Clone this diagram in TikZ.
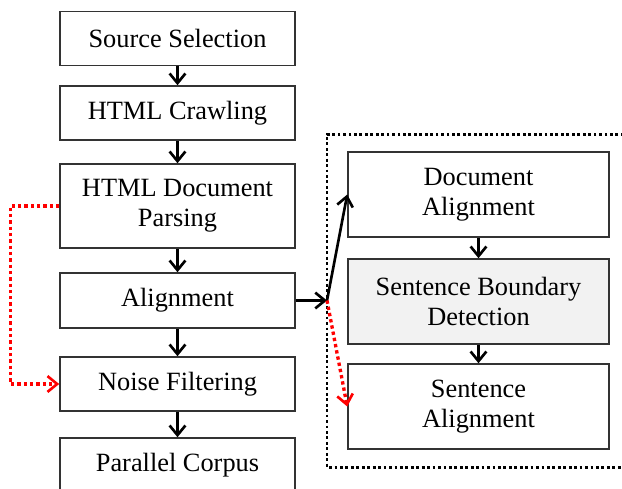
\documentclass[tikz,border=0pt]{standalone}
\usepackage{fontspec}
\setmainfont{Liberation Serif}
\usetikzlibrary{arrows.meta}

\begin{document}
\begin{tikzpicture}[x=0.02cm, y=-0.02cm,
		stage/.style = {draw=black!80, line width=0.9pt, align=center, inner sep=0pt,
			font=\fontsize{15}{17}\selectfont},
		leftstage/.style = {stage, minimum width=4.7cm},
		rightstage/.style = {stage, minimum width=5.22cm, minimum height=1.7cm},
		flow/.style = {line width=1.5pt, -{Straight Barb[length=5.5pt, width=9pt, line width=1.5pt]}},
		redflow/.style = {flow, red, line width=1.9pt, dash pattern=on 1.9pt off 1.7pt}]
		\clip (0,0) rectangle (622,488);
		% main pipeline
		\node[leftstage, minimum height=1.08cm] (src) at (177.5,38.5) {Source Selection};
		\node[leftstage, minimum height=1.08cm] (crawl) at (177.5,113) {HTML Crawling};
		\node[leftstage, minimum height=1.68cm] (parse) at (177.5,206) {HTML Document\\Parsing};
		\node[leftstage, minimum height=1.1cm] (align) at (177.5,300.5) {Alignment};
		\node[leftstage, minimum height=1.08cm] (noise) at (177.5,384) {Noise Filtering};
		\node[leftstage, minimum height=1.08cm] (corpus) at (177.5,465) {Parallel Corpus};
		\foreach \a/\b in {src/crawl, crawl/parse, parse/align, align/noise, noise/corpus}
			\draw[flow] (\a.south) -- (\b.north);
		% alignment sub-steps
		\draw[line width=1.7pt, dash pattern=on 1.6pt off 1.5pt] (640,134) -- (327,134) -- (327,467) -- (640,467);
		\node[rightstage] (doc) at (478.5,194.5) {Document\\Alignment};
		\node[rightstage, fill=black!5] (sbd) at (478.5,301.5) {Sentence Boundary\\Detection};
		\node[rightstage] (sent) at (478.5,406.5) {Sentence\\Alignment};
		\draw[flow] (doc.south) -- (sbd.north);
		\draw[flow] (sbd.south) -- (sent.north);
		\coordinate (split) at (327,300.5);
		\draw[flow] (align.east) -- (split);
		\draw[flow, shorten <=-0.5pt] (split) -- (doc.west);
		\draw[redflow] (split) -- (sent.west);
		\draw[redflow] (parse.west) -- ++(-49,0) |- (noise.west);
	\end{tikzpicture}
\end{document}
